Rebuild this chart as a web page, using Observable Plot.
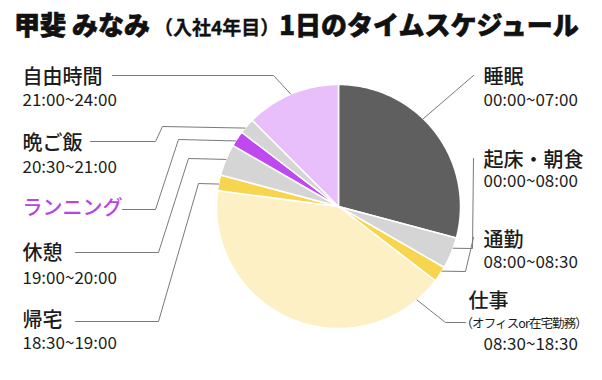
<!DOCTYPE html>
<html><head><meta charset="utf-8">
<script src="https://cdn.jsdelivr.net/npm/d3@7"></script>
<script src="https://cdn.jsdelivr.net/npm/@observablehq/plot@0.6"></script>
<style>
body{margin:0;background:#fff;font-family:"Noto Sans CJK JP",sans-serif;}
#wrap{width:602px;height:380px;position:relative;overflow:hidden;background:#fff}
#title{position:absolute;left:14px;top:0;height:46px;line-height:48px;white-space:nowrap;font-weight:900;font-size:26px;color:#111;-webkit-text-stroke:0.6px #111}
#title .sub{font-size:19px;font-weight:700;margin-left:4px;-webkit-text-stroke:0.3px #111}
#chart{position:absolute;left:0;top:44px}
</style></head><body>
<div id="wrap"><div id="title"></div><div id="chart"></div></div>
<script>
// ---- data ----
const titleName = "甲斐 みなみ";
const titleSub = "（入社4年目）";
const titleMain = "1日のタイムスケジュール";
const activities = ["睡眠","起床・朝食","通勤","仕事","帰宅","休憩","ランニング","晩ご飯","自由時間"];
const hours = [7, 1, 0.5, 10, 0.5, 1, 0.5, 0.5, 3];
const timeRanges = ["00:00~07:00","00:00~08:00","08:00~08:30","08:30~18:30","18:30~19:00","19:00~20:00","","20:30~21:00","21:00~24:00"];
const workNote = "（オフィスor在宅勤務）";

// ---- styles ----
const sliceColors = ["#5f5f5f","#d5d5d5","#f7d54e","#fdf0c5","#f7d54e","#d5d5d5","#bf48ee","#d5d5d5","#e9bffb"];
const labelColors = ["#1c1c1c","#1c1c1c","#1c1c1c","#1c1c1c","#1c1c1c","#1c1c1c","#b645e3","#1c1c1c","#1c1c1c"];

// ---- layout (image pixel coordinates) ----
const pieLayout = {cx: 338, cy: 206, r: 122};
// leader: start angle (deg, clockwise from top) on the slice edge, then elbows
const leaderLayout = [
  {a: 44,    pts: [[473,75]]},
  {a: 110,   pts: [[472,248],[473,158]]},
  {a: 122,   pts: [[465,271],[473,237]]},
  {a: 140,   pts: [[445,322],[465,322]]},
  {a: 280.6, pts: [[198,183],[158,321],[75,321]]},
  {a: 292.7, pts: [[188,158],[158,252],[75,252]]},
  {a: 302.5, pts: [[178,139],[155,209],[122,209]]},
  {a: 310,   pts: [[162,126],[155,141],[90,141]]},
  {a: 337,   pts: [[273,75],[112,75]]}
];
const labelLayout = [
  {x: 483, y: 77,  ty: 100},
  {x: 483, y: 160, ty: 181},
  {x: 483, y: 240, ty: 262},
  {x: 468, y: 301, ty: 344, tx: 483, nx: 460, ny: 323},
  {x: 22,  y: 320, ty: 343},
  {x: 22,  y: 253, ty: 278},
  {x: 22,  y: 208},
  {x: 22,  y: 143, ty: 167},
  {x: 22,  y: 77,  ty: 100}
];

// title
const t = document.getElementById("title");
t.append(titleName);
const s = document.createElement("span"); s.className = "sub"; s.textContent = titleSub; t.append(s);
t.append(titleMain);

// pie geometry from data
const {cx, cy, r} = pieLayout;
const arcs = d3.pie().sort(null).value(d => d)(hours);
const slicePts = [];
arcs.forEach((p, i) => {
  const n = Math.max(4, Math.ceil((p.endAngle - p.startAngle) * 180 / Math.PI));
  slicePts.push({k: i, x: cx, y: cy, c: sliceColors[i]});
  for (let j = 0; j <= n; j++) {
    const a = p.startAngle + (p.endAngle - p.startAngle) * j / n;
    slicePts.push({k: i, x: cx + r * Math.sin(a), y: cy - r * Math.cos(a), c: sliceColors[i]});
  }
  slicePts.push({k: i, x: cx, y: cy, c: sliceColors[i]});
});

const leaderPts = [];
leaderLayout.forEach((L, i) => {
  const a = L.a * Math.PI / 180;
  leaderPts.push({k: i, x: cx + r * Math.sin(a), y: cy - r * Math.cos(a)});
  L.pts.forEach(([x, y]) => leaderPts.push({k: i, x, y}));
});

const names = activities.map((n, i) => ({text: n, x: labelLayout[i].x, y: labelLayout[i].y, c: labelColors[i]}));
const times = timeRanges.map((tr, i) => ({text: tr, x: labelLayout[i].tx ?? labelLayout[i].x, y: labelLayout[i].ty})).filter(d => d.text);
const notes = [{text: workNote, x: labelLayout[3].nx, y: labelLayout[3].ny}];

const chart = Plot.plot({
  width: 602, height: 336, margin: 0,
  x: {domain: [0, 602], range: [0, 602], axis: null},
  y: {domain: [44, 380], range: [0, 336], axis: null},
  color: {type: "identity"},
  style: {fontFamily: '"Noto Sans CJK JP", sans-serif', background: "transparent", overflow: "visible"},
  marks: [
    Plot.line(slicePts, {x: "x", y: "y", z: "k", fill: "c", stroke: "#ffffff", strokeWidth: 1.5, strokeLinejoin: "round", curve: "linear"}),
    Plot.line(leaderPts, {x: "x", y: "y", z: "k", stroke: "#7a7a7a", strokeWidth: 1}),
    Plot.text(names, {x: "x", y: "y", text: "text", fill: "c", textAnchor: "start", fontSize: 20, fontWeight: 500}),
    Plot.text(times, {x: "x", y: "y", text: "text", fill: "#1c1c1c", textAnchor: "start", fontSize: 17}),
    Plot.text(notes, {x: "x", y: "y", text: "text", fill: "#1c1c1c", textAnchor: "start", fontSize: 12.5, style: "letter-spacing:-0.9px"})
  ]
});
chart.querySelectorAll("text").forEach(el => { if (el.textContent === workNote) el.style.letterSpacing = "-0.9px"; });
document.getElementById("chart").append(chart);
</script>
</body></html>
